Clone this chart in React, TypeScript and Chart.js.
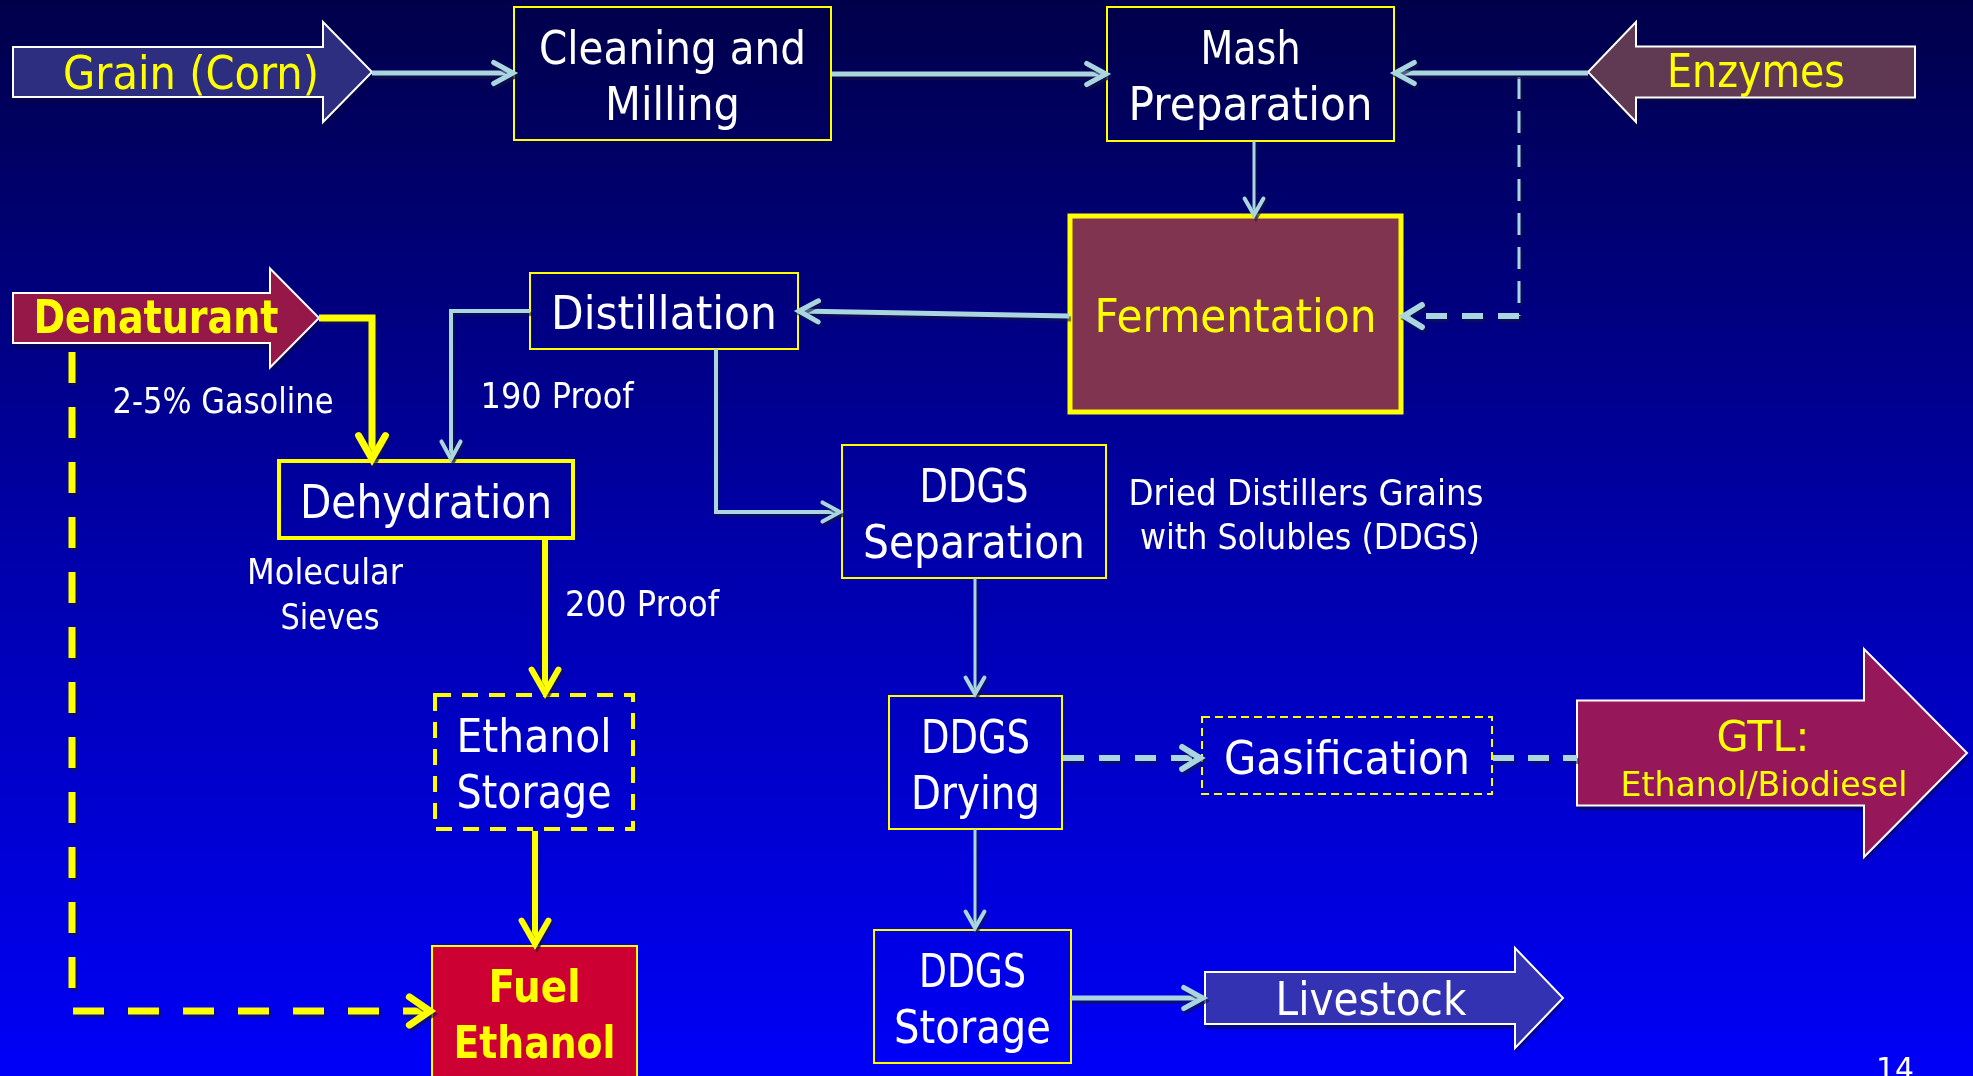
import React, { useEffect, useRef } from "react";
import { Chart, registerables } from "chart.js";

Chart.register(...registerables);

const CANVAS_W = 1973;
const CANVAS_H = 1076;

// ---------------- process steps (boxes) ----------------
const stepLabels: string[][] = [
  ["Cleaning and", "Milling"],
  ["Mash", "Preparation"],
  ["Fermentation"],
  ["Distillation"],
  ["Dehydration"],
  ["Ethanol", "Storage"],
  ["Fuel", "Ethanol"],
  ["DDGS", "Separation"],
  ["DDGS", "Drying"],
  ["Gasification"],
  ["DDGS", "Storage"],
];
// diagram units: [left, top, right, bottom]
const stepBounds: number[][] = [
  [514, 7, 831, 140],
  [1107, 7, 1394, 141],
  [1070, 216, 1401, 412],
  [530, 273, 798, 349],
  [279, 461, 573, 538],
  [435, 695, 633, 829],
  [432, 946, 637, 1078],
  [842, 445, 1106, 578],
  [889, 696, 1062, 829],
  [1202, 717, 1492, 794],
  [874, 930, 1071, 1063],
];
const stepKinds: string[] = ["plain", "plain", "ferm", "plain", "bold", "dashed", "fuel", "plain", "plain", "dotted", "plain"];
const stepTextWidths: number[][] = [[267, 135], [100, 244], [282], [226], [252], [155, 155], [92, 162], [109, 222], [109, 129], [246], [107, 157]];

// ---------------- inputs / outputs (block arrows) ----------------
const flowArrowLabels: string[][] = [["Grain (Corn)"], ["Enzymes"], ["Denaturant"], ["GTL:", "Ethanol/Biodiesel"], ["Livestock"]];
// [tail x, head-start x, tip x, tip y, body half-height, head half-height]
const flowArrowGeom: number[][] = [
  [13, 323, 372, 72, 25, 50],
  [1915, 1636, 1588, 72, 25.5, 50],
  [13, 270, 319, 318, 25, 49.5],
  [1577, 1864, 1967, 753, 52.5, 104],
  [1205, 1515, 1563, 998, 26, 50],
];
const flowArrowKinds: string[] = ["grain", "enzymes", "denaturant", "gtl", "livestock"];
// text anchors [x, y] per line
const flowArrowTextPos: number[][][] = [
  [[191, 72]],
  [[1756, 70]],
  [[156, 316]],
  [[1763, 735], [1764, 784]],
  [[1371, 998]],
];
const flowArrowTextWidths: number[][] = [[256], [178], [245], [93, 287], [191]];

// ---------------- connectors ----------------
const connectorPaths: number[][][] = [
  [[372, 73], [513, 73]],
  [[832, 74], [1106, 74]],
  [[1588, 73], [1395, 73]],
  [[1519, 77], [1519, 316]],
  [[1519, 316], [1404, 316]],
  [[1254, 141], [1254, 215]],
  [[1069, 316], [799, 311]],
  [[530, 311], [451, 311], [451, 459]],
  [[716, 349], [716, 512], [840, 512]],
  [[319, 318], [372, 318], [372, 459]],
  [[72, 352], [72, 1011], [430, 1011]],
  [[545, 539], [545, 693]],
  [[535, 831], [535, 944]],
  [[975, 578], [975, 694]],
  [[975, 829], [975, 928]],
  [[1063, 758], [1200, 758]],
  [[1493, 758], [1577, 758]],
  [[1071, 998], [1203, 998]],
];
const connectorKinds: string[] = [
  "flow", "flow", "flow", "optThin", "opt", "flowThin", "flow", "flowMid", "flowMid",
  "fuel", "fuelOpt", "fuelMid", "fuelMid", "flowThin", "flowThin", "opt", "optEnd", "flow",
];

// ---------------- free notes ----------------
const noteTexts: string[] = ["2-5% Gasoline", "190 Proof", "Molecular", "Sieves", "200 Proof", "Dried Distillers Grains", "with Solubles (DDGS)", "14"];
const notePos: number[][] = [[223, 400], [557, 395], [325, 571], [330, 616], [642, 603], [1306, 492], [1310, 536], [1895, 1068]];
const noteWidths: number[] = [221, 153, 156, 99, 154, 355, 340, 38];

// ---------------- styles ----------------
const FONT = '"DejaVu Sans", "Noto Sans", sans-serif';
const YELLOW = "#FFFF00";
const LIGHT = "#A9D6DF";
const WHITE = "#FFFFFF";

const stepStyles: Record<string, any> = {
  plain: { fill: null, stroke: YELLOW, width: 2, dash: [], text: WHITE, bold: false, size: 46 },
  bold: { fill: null, stroke: YELLOW, width: 4, dash: [], text: WHITE, bold: false, size: 46 },
  ferm: { fill: "#803450", stroke: YELLOW, width: 5, dash: [], text: YELLOW, bold: false, size: 46 },
  fuel: { fill: "#CC0033", stroke: YELLOW, width: 2, dash: [], text: YELLOW, bold: true, size: 44 },
  dashed: { fill: null, stroke: YELLOW, width: 4, dash: [16, 11], text: WHITE, bold: false, size: 46 },
  dotted: { fill: null, stroke: YELLOW, width: 2, dash: [8, 5], text: WHITE, bold: false, size: 46 },
};
const arrowStyles: Record<string, any> = {
  grain: { fill: "#2E2E80", text: YELLOW, bold: false, sizes: [46] },
  enzymes: { fill: "#603A52", text: YELLOW, bold: false, sizes: [46] },
  denaturant: { fill: "#961848", text: YELLOW, bold: true, sizes: [46] },
  gtl: { fill: "#96185A", text: YELLOW, bold: false, sizes: [43, 34] },
  livestock: { fill: "#3232B2", text: WHITE, bold: false, sizes: [46] },
};
const connectorStyles: Record<string, any> = {
  flow: { color: LIGHT, width: 5, dash: [], head: 22, spread: 0.5 },
  flowMid: { color: LIGHT, width: 4, dash: [], head: 20, spread: 0.5 },
  flowThin: { color: LIGHT, width: 3, dash: [], head: 19, spread: 0.52 },
  optThin: { color: LIGHT, width: 3, dash: [22, 12], head: 0, spread: 0 },
  opt: { color: LIGHT, width: 6, dash: [21, 15], head: 21, spread: 0.55 },
  optEnd: { color: LIGHT, width: 6, dash: [21, 14], head: 0, spread: 0 },
  fuel: { color: YELLOW, width: 7, dash: [], head: 27, spread: 0.52 },
  fuelMid: { color: YELLOW, width: 6, dash: [], head: 27, spread: 0.52 },
  fuelOpt: { color: YELLOW, width: 7, dash: [31, 24], head: 25, spread: 0.6 },
};

function drawFitText(ctx: CanvasRenderingContext2D, text: string, cx: number, cy: number, size: number, bold: boolean, color: string, width: number) {
  ctx.save();
  ctx.font = `${bold ? "bold " : ""}${size}px ${FONT}`;
  const m = ctx.measureText(text).width;
  const sx = width && m > 0 ? width / m : 1;
  ctx.translate(cx, cy + (size * 0.729) / 2);
  ctx.scale(sx, 1);
  ctx.textAlign = "center";
  ctx.textBaseline = "alphabetic";
  ctx.fillStyle = color;
  ctx.fillText(text, 0, 0);
  ctx.restore();
}

const diagramPlugin = {
  id: "diagram",
  beforeDraw(chart: any) {
    const { ctx, scales } = chart;
    const Y = (v: number) => scales.y.getPixelForValue(v);
    ctx.save();
    const g = ctx.createLinearGradient(0, Y(0), 0, Y(CANVAS_H));
    g.addColorStop(0, "#00004A");
    g.addColorStop(0.5, "#0000A8");
    g.addColorStop(1, "#0000F8");
    ctx.fillStyle = g;
    ctx.fillRect(0, 0, chart.width, chart.height);
    ctx.restore();
  },
  beforeDatasetsDraw(chart: any) {
    const { ctx, scales } = chart;
    const X = (v: number) => scales.x.getPixelForValue(v);
    const Y = (v: number) => scales.y.getPixelForValue(v);

    // block arrows
    flowArrowGeom.forEach((gm, i) => {
      const st = arrowStyles[flowArrowKinds[i]];
      const [tail, hs, tip, ty, bh, hh] = gm;
      const pts = [
        [tail, ty - bh], [hs, ty - bh], [hs, ty - hh], [tip, ty],
        [hs, ty + hh], [hs, ty + bh], [tail, ty + bh],
      ];
      ctx.save();
      ctx.beginPath();
      pts.forEach((p, k) => (k === 0 ? ctx.moveTo(X(p[0]), Y(p[1])) : ctx.lineTo(X(p[0]), Y(p[1]))));
      ctx.closePath();
      ctx.shadowColor = "rgba(10,10,60,0.55)";
      ctx.shadowOffsetX = 1;
      ctx.shadowOffsetY = 5;
      ctx.shadowBlur = 2;
      ctx.fillStyle = st.fill;
      ctx.fill();
      ctx.shadowColor = "transparent";
      ctx.lineWidth = 2;
      ctx.strokeStyle = WHITE;
      ctx.lineJoin = "miter";
      ctx.stroke();
      ctx.restore();
    });

    // process boxes
    stepBounds.forEach((b, i) => {
      const st = stepStyles[stepKinds[i]];
      const x0 = X(b[0]), y0 = Y(b[1]), x1 = X(b[2]), y1 = Y(b[3]);
      ctx.save();
      if (st.fill) {
        ctx.fillStyle = st.fill;
        ctx.fillRect(x0, y0, x1 - x0, y1 - y0);
      }
      ctx.lineWidth = st.width;
      ctx.strokeStyle = st.stroke;
      ctx.setLineDash(st.dash);
      ctx.strokeRect(x0, y0, x1 - x0, y1 - y0);
      ctx.restore();
    });
  },
  beforeDatasetDraw(chart: any) {
    const ctx = chart.ctx;
    ctx.shadowColor = "rgba(20,20,70,0.6)";
    ctx.shadowOffsetX = 2;
    ctx.shadowOffsetY = 3;
    ctx.shadowBlur = 1;
  },
  afterDatasetDraw(chart: any) {
    const ctx = chart.ctx;
    ctx.shadowColor = "transparent";
    ctx.shadowOffsetX = 0;
    ctx.shadowOffsetY = 0;
    ctx.shadowBlur = 0;
  },
  afterDatasetsDraw(chart: any) {
    const { ctx, scales } = chart;
    const X = (v: number) => scales.x.getPixelForValue(v);
    const Y = (v: number) => scales.y.getPixelForValue(v);

    // arrow heads
    connectorPaths.forEach((path, i) => {
      const st = connectorStyles[connectorKinds[i]];
      if (!st.head) return;
      const a = path[path.length - 2];
      const b = path[path.length - 1];
      const ax = X(a[0]), ay = Y(a[1]), bx = X(b[0]), by = Y(b[1]);
      const ang = Math.atan2(by - ay, bx - ax);
      const spread = st.spread;
      ctx.save();
      ctx.shadowColor = "rgba(20,20,70,0.6)";
      ctx.shadowOffsetX = 2;
      ctx.shadowOffsetY = 3;
      ctx.strokeStyle = st.color;
      ctx.lineWidth = Math.max(st.width, 4);
      ctx.lineCap = "round";
      ctx.lineJoin = "miter";
      ctx.beginPath();
      ctx.moveTo(bx - st.head * Math.cos(ang - spread), by - st.head * Math.sin(ang - spread));
      ctx.lineTo(bx, by);
      ctx.lineTo(bx - st.head * Math.cos(ang + spread), by - st.head * Math.sin(ang + spread));
      ctx.stroke();
      ctx.restore();
    });

    // box texts
    stepLabels.forEach((lines, i) => {
      const st = stepStyles[stepKinds[i]];
      const b = stepBounds[i];
      const cx = (b[0] + b[2]) / 2;
      const cy = (b[1] + b[3]) / 2 + 1.5;
      const n = lines.length;
      lines.forEach((t, k) => {
        const ly = cy + (k - (n - 1) / 2) * 56;
        drawFitText(ctx, t, X(cx), Y(ly), st.size, st.bold, st.text, stepTextWidths[i][k]);
      });
    });

    // block arrow texts
    flowArrowLabels.forEach((lines, i) => {
      const st = arrowStyles[flowArrowKinds[i]];
      lines.forEach((t, k) => {
        const p = flowArrowTextPos[i][k];
        drawFitText(ctx, t, X(p[0]), Y(p[1]), st.sizes[k], st.bold, st.text, flowArrowTextWidths[i][k]);
      });
    });

    // notes
    noteTexts.forEach((t, i) => {
      const p = notePos[i];
      const size = t === "14" ? 30 : 35;
      drawFitText(ctx, t, X(p[0]), Y(p[1]), size, false, WHITE, noteWidths[i]);
    });
  },
};

export default function App() {
  const ref = useRef<HTMLCanvasElement | null>(null);
  useEffect(() => {
    if (!ref.current) return;
    const datasets = connectorPaths.map((path, i) => {
      const st = connectorStyles[connectorKinds[i]];
      return {
        label: `c${i}`,
        data: path.map((p) => ({ x: p[0], y: p[1] })),
        showLine: true,
        borderColor: st.color,
        backgroundColor: st.color,
        borderWidth: st.width,
        borderDash: st.dash,
        borderCapStyle: "butt",
        borderJoinStyle: "miter",
        pointRadius: 0,
        pointHoverRadius: 0,
        fill: false,
        tension: 0,
      };
    });
    const chart = new Chart(ref.current, {
      type: "scatter",
      data: { datasets } as any,
      options: {
        responsive: false,
        maintainAspectRatio: false,
        animation: false,
        events: [],
        layout: { padding: 0 },
        plugins: { legend: { display: false }, tooltip: { enabled: false } },
        scales: {
          x: { type: "linear", min: 0, max: CANVAS_W, display: false },
          y: { type: "linear", min: 0, max: CANVAS_H, reverse: true, display: false },
        },
      } as any,
      plugins: [diagramPlugin as any],
    });
    return () => chart.destroy();
  }, []);
  return (
    <div style={{ position: "fixed", left: 0, top: 0, width: CANVAS_W, height: CANVAS_H, overflow: "hidden" }}>
      <canvas ref={ref} width={CANVAS_W} height={CANVAS_H} style={{ display: "block", width: CANVAS_W, height: CANVAS_H }} />
    </div>
  );
}
